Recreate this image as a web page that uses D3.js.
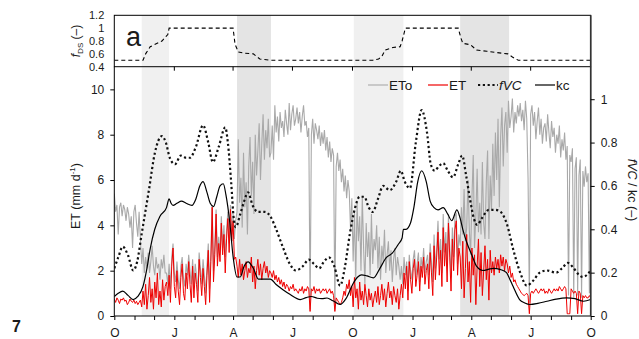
<!DOCTYPE html>
<html><head><meta charset="utf-8">
<script src="https://cdn.jsdelivr.net/npm/d3@7"></script>
<style>
body{margin:0;background:#fff}
text{font-family:"Liberation Sans",Arial,Helvetica,sans-serif;fill:#1a1a1a}
</style>
</head><body>
<svg id="chart" width="639" height="339"></svg>
<script>
// Period: two hydrological years, 1 Oct to 1 Oct
const startDate = new Date(2009, 9, 1);
const endDate = new Date(2011, 9, 1);

// Daily series sampled every 2 days (mm d-1)
const stepDays = 2;
const etoValues = [
 5.4,4.6,4.9,3.6,4.8,5.0,4.4,4.9,4.7,4.2,4.8,4.5,3.9,4.4,3.0,4.6,4.9,4.1,3.5,4.6,
 3.4,2.3,3.0,1.9,2.6,2.1,2.8,1.9,2.4,3.1,2.2,1.8,2.6,2.1,2.3,1.6,2.5,2.1,2.7,1.9,
 1.9,1.4,2.3,1.2,2.6,3.2,1.9,1.5,2.4,1.6,1.2,2.2,2.6,1.7,1.3,2.3,1.8,2.7,2.0,1.4,
 2.5,1.3,2.3,1.8,1.1,2.8,2.1,1.4,2.5,1.8,1.0,2.2,3.2,1.2,2.8,4.9,2.0,3.1,4.7,2.6,
 3.5,2.7,4.4,3.0,4.0,2.6,3.8,4.6,3.2,4.9,3.6,4.5,3.4,4.2,
 4.6,7.8,5.0,6.1,3.9,7.2,4.8,5.9,3.6,6.6,7.9,5.3,6.8,4.5,8.0,6.2,7.3,8.5,6.0,7.6,8.9,6.9,8.2,7.4,8.7,7.0,
 7.2,8.4,6.9,9.3,8.1,8.8,7.7,9.0,8.3,8.6,7.9,9.1,8.5,8.0,9.4,8.2,8.9,9.3,8.4,8.7,
 9.2,8.5,9.0,8.1,8.8,9.3,8.4,8.6,7.9,8.3,0.3,8.0,8.7,7.6,8.5,8.2,7.8,8.4,7.5,8.1,
 7.6,8.2,7.3,7.9,7.0,7.7,6.8,7.4,7.1,0.3,6.6,7.2,6.4,6.9,5.9,6.5,5.5,6.2,5.2,6.0,
 5.5,3.8,5.2,2.4,4.6,1.6,5.0,3.3,4.4,2.0,5.3,3.0,1.4,4.1,2.6,3.7,1.8,4.5,2.3,3.4,
 2.9,4.0,2.1,3.5,1.6,3.1,2.4,3.8,1.9,2.7,3.3,2.0,2.9,1.5,2.5,3.0,1.8,2.6,2.2,1.6,
 2.2,1.4,2.6,1.8,2.4,1.1,2.7,2.0,1.6,2.5,2.9,1.7,2.3,2.8,1.5,2.6,2.1,3.0,1.9,2.4,
 2.7,1.8,3.2,2.4,1.5,3.6,2.1,3.0,4.2,2.5,3.4,1.9,4.5,2.8,3.7,2.2,4.4,3.1,1.7,3.9,2.6,4.4,4.5,2.3,3.6,
 3.1,4.8,3.6,5.6,3.3,3.9,6.0,3.8,2.7,5.2,7.1,3.0,4.4,6.5,3.7,5.0,3.6,6.8,4.1,3.4,5.9,7.3,3.4,6.2,4.7,
 7.6,5.3,8.1,6.0,8.7,4.8,7.9,9.2,6.6,8.4,9.0,7.2,9.5,8.3,8.8,9.6,8.1,9.0,8.5,9.3,
 8.8,9.4,8.6,9.1,8.2,9.5,8.7,6.1,0.6,8.9,9.3,8.4,9.0,7.8,8.6,9.2,8.0,8.7,7.6,8.3,
 8.5,7.7,8.9,8.1,7.4,8.6,7.9,8.3,7.2,8.0,7.6,8.4,7.0,7.8,7.3,8.1,6.9,7.5,0.9,7.1,
 6.8,7.4,0.8,6.5,7.0,0.9,6.2,6.9,0.8,6.4,5.7,6.6,5.9,6.3,1.0,5.6
];
const etValues = [
 0.75,0.6,0.8,0.7,0.55,0.75,0.7,0.8,0.65,0.7,0.5,0.6,0.75,0.65,0.6,0.7,0.55,0.65,0.5,0.6,
 0.7,0.4,1.1,0.5,1.4,0.3,0.9,1.7,0.6,1.2,0.3,1.5,0.8,1.9,0.5,1.1,0.4,1.6,0.7,1.3,
 1.5,0.9,1.8,0.6,2.2,3.0,1.3,0.8,2.0,1.1,0.5,1.7,2.3,1.0,0.7,1.9,1.2,2.4,1.4,0.6,
 2.2,0.8,1.9,1.4,0.6,2.5,1.7,0.9,2.1,1.3,0.5,1.8,2.9,0.6,2.4,4.8,1.5,2.7,4.5,2.2,
 3.2,2.4,4.1,2.7,3.6,1.9,3.4,4.3,2.8,4.7,3.3,4.2,2.5,2.6,
 2.2,1.7,2.5,1.8,2.3,1.6,2.0,2.4,1.7,2.1,1.9,2.6,1.5,2.2,1.2,2.0,2.5,1.8,2.3,1.6,2.1,2.4,1.9,2.2,1.7,2.0,
 1.9,1.7,2.0,1.6,1.8,1.5,1.7,1.4,1.6,1.3,1.5,1.2,1.4,1.3,1.1,1.3,1.2,1.4,1.1,1.2,
 1.1,1.0,1.2,1.1,1.3,1.0,1.2,1.1,1.3,1.2,0.2,1.2,1.1,1.3,1.0,1.2,1.1,1.2,1.0,1.1,
 1.2,1.1,1.2,1.0,1.1,1.2,1.0,1.1,0.9,0.2,0.8,0.7,0.6,0.5,0.6,0.8,1.1,0.9,1.4,1.2,
 1.6,0.9,1.3,0.4,1.7,0.8,1.2,0.3,1.5,0.7,1.1,0.5,1.4,0.9,0.4,1.2,0.7,1.0,0.4,0.8,
 1.1,0.6,1.3,0.5,0.9,1.4,0.7,1.2,0.4,1.0,1.5,0.8,1.1,0.5,1.3,0.9,0.6,1.2,0.3,0.9,
 1.4,0.8,1.9,1.2,2.2,0.7,2.4,1.6,1.0,2.1,2.5,1.3,1.8,2.4,1.1,2.2,1.7,2.6,1.4,2.0,
 2.3,1.2,2.8,1.9,0.9,3.1,1.6,2.6,3.7,1.8,2.9,1.3,3.9,2.2,3.2,1.5,4.1,2.6,1.1,3.4,2.0,3.8,4.2,1.8,3.0,
 2.6,1.2,3.3,0.8,2.1,3.6,1.5,2.4,0.6,3.0,1.8,2.7,0.5,2.2,3.4,1.3,2.8,0.9,2.0,3.1,1.6,2.5,0.7,2.9,1.9,
 2.4,1.8,2.6,2.1,2.5,1.9,2.7,2.2,2.6,2.0,2.5,2.3,1.9,2.2,1.7,1.9,1.5,1.6,1.4,1.3,
 1.2,1.1,1.0,0.95,0.9,0.95,1.0,0.9,0.1,1.0,1.1,1.0,1.1,1.2,1.1,1.0,1.1,1.2,1.1,1.2,
 1.0,1.1,1.0,1.2,1.1,1.0,1.1,1.2,1.1,1.2,1.1,1.3,1.2,1.1,1.2,1.3,1.2,0.1,0.1,0.1,
 1.2,1.1,1.0,1.1,1.0,0.1,1.1,1.0,0.1,0.9,0.8,0.9,0.8,0.8,0.9,0.8
];

// Vegetation cover fraction (-), day offsets from the start date
const fvcDays = [0,6,13,21,29,35,42,53,62,73,79,85,93,102,110,116,125,136,144,151,160,170,174,179,183,186,193,199,205,212,220,231,239,248,258,269,278,289,298,306,314,321,329,337,346,353,361,369,376,383,390,396,404,412,422,432,439,445,453,462,471,479,485,491,497,504,511,519,527,533,539,545,551,556,563,574,583,592,602,611,622,632,641,652,663,677,686,695,704,712,718,730];
const fvcValues = [0.22,0.27,0.32,0.28,0.21,0.25,0.38,0.58,0.75,0.83,0.80,0.73,0.70,0.74,0.73,0.73,0.78,0.88,0.80,0.71,0.78,0.87,0.80,0.62,0.45,0.41,0.47,0.53,0.57,0.51,0.48,0.48,0.46,0.40,0.32,0.24,0.21,0.23,0.26,0.24,0.22,0.25,0.27,0.23,0.14,0.22,0.38,0.50,0.55,0.55,0.50,0.48,0.54,0.60,0.58,0.62,0.67,0.62,0.59,0.80,0.95,0.85,0.70,0.67,0.69,0.705,0.67,0.64,0.70,0.74,0.65,0.54,0.45,0.42,0.45,0.49,0.49,0.48,0.42,0.31,0.20,0.14,0.16,0.20,0.21,0.20,0.22,0.245,0.22,0.19,0.18,0.21];

// Crop coefficient (-)
const kcDays = [0,6,13,21,29,36,44,50,55,62,70,80,84,87,90,96,103,110,119,125,131,136,142,147,152,157,162,167,171,177,182,188,193,199,205,213,221,229,239,248,259,269,285,294,302,311,318,326,335,346,355,366,373,379,387,397,407,417,426,435,441,443,447,454,459,465,471,478,484,490,496,504,511,517,525,530,534,540,548,555,565,573,581,591,601,606,611,621,629,637,649,663,677,693,706,719,730];
const kcValues = [0.09,0.105,0.115,0.095,0.076,0.09,0.137,0.22,0.31,0.40,0.46,0.50,0.54,0.52,0.51,0.52,0.53,0.52,0.51,0.54,0.60,0.62,0.57,0.52,0.505,0.55,0.60,0.61,0.56,0.43,0.275,0.18,0.18,0.23,0.25,0.22,0.17,0.17,0.17,0.145,0.12,0.10,0.076,0.085,0.09,0.082,0.08,0.083,0.07,0.053,0.08,0.15,0.18,0.19,0.185,0.176,0.22,0.27,0.29,0.33,0.36,0.40,0.40,0.43,0.50,0.62,0.67,0.62,0.53,0.50,0.49,0.50,0.47,0.44,0.49,0.45,0.40,0.34,0.28,0.23,0.21,0.215,0.22,0.215,0.20,0.17,0.137,0.076,0.06,0.053,0.058,0.068,0.078,0.084,0.08,0.068,0.076];

// Dry-season factor fDS (-)
const fdsDays = [0,44,48,55,65,73,79,82,84,182,185,190,200,213,219,223,239,396,405,410,415,427,438,441,446,527,531,534,546,555,571,586,603,610,619,730];
const fdsValues = [0.5,0.5,0.6,0.71,0.76,0.80,0.87,0.9,1.0,1.0,0.75,0.63,0.61,0.60,0.55,0.52,0.50,0.50,0.52,0.56,0.66,0.70,0.71,0.80,1.0,1.0,0.85,0.765,0.74,0.66,0.64,0.62,0.60,0.55,0.50,0.50];

// Shaded periods (day offsets) and their shade
const bandStart = [42, 188, 367, 530];
const bandEnd = [84, 240, 443, 605];
const bandTone = ["light", "dark", "light", "dark"];

// Tick labels
const monthLetters = ["J","F","M","A","M","J","J","A","S","O","N","D"];
const leftTicks = [0, 2, 4, 6, 8, 10];
const rightTicks = [0, 0.2, 0.4, 0.6, 0.8, 1];
const topTicks = [0.4, 0.6, 0.8, 1, 1.2];
const legendNames = ["ETo", "ET", "fVC", "kc"];

const svg = d3.select("#chart");
const L = 114.3, R = 590.7, T = 15.3, M = 66.7, B = 316;

const dayDate = d => d3.timeDay.offset(startDate, d);
const x = d3.scaleTime().domain([startDate, endDate]).range([L, R]);
const yTop = d3.scaleLinear().domain([0.4, 1.2]).range([M, T]);
const yLeft = d3.scaleLinear().domain([0, 11]).range([B, M]);
const yRight = d3.scaleLinear().domain([0, 1.15]).range([B, M]);

svg.append("rect").attr("width", 639).attr("height", 339).attr("fill", "#fff");

const defs = svg.append("defs");
defs.append("clipPath").attr("id", "clipMain").append("rect")
  .attr("x", L).attr("y", M).attr("width", R - L).attr("height", B - M);
defs.append("clipPath").attr("id", "clipTop").append("rect")
  .attr("x", L).attr("y", T).attr("width", R - L).attr("height", M - T);

// shaded bands across both panels
const tone = {light: "#f0f0f0", dark: "#e4e4e4"};
svg.append("g").selectAll("rect").data(bandStart).join("rect")
  .attr("x", (d) => x(dayDate(d)))
  .attr("width", (d, i) => x(dayDate(bandEnd[i])) - x(dayDate(d)))
  .attr("y", T).attr("height", B - T)
  .attr("fill", (d, i) => tone[bandTone[i]]);

// daily series
const etoData = etoValues.map((v, i) => ({d: dayDate(i * stepDays), v}));
const etData = etValues.map((v, i) => ({d: dayDate(i * stepDays), v}));
const fvcData = fvcDays.map((d, i) => ({d: dayDate(d), v: fvcValues[i]}));
const kcData = kcDays.map((d, i) => ({d: dayDate(d), v: kcValues[i]}));
const fdsData = fdsDays.map((d, i) => ({d: dayDate(d), v: fdsValues[i]}));

const gMain = svg.append("g").attr("clip-path", "url(#clipMain)");
const lineLeft = d3.line().x(p => x(p.d)).y(p => yLeft(p.v));
const lineRight = d3.line().x(p => x(p.d)).y(p => yRight(p.v)).curve(d3.curveMonotoneX);

gMain.append("path").datum(etoData).attr("d", lineLeft)
  .attr("fill", "none").attr("stroke", "#a9a9a9").attr("stroke-width", 1.1);
gMain.append("path").datum(etData).attr("d", lineLeft)
  .attr("fill", "none").attr("stroke", "#ee0000").attr("stroke-width", 1);
gMain.append("path").datum(fvcData).attr("d", lineRight)
  .attr("fill", "none").attr("stroke", "#111").attr("stroke-width", 2.2)
  .attr("stroke-dasharray", "2.2,2.6");
gMain.append("path").datum(kcData).attr("d", lineRight)
  .attr("fill", "none").attr("stroke", "#000").attr("stroke-width", 1.2);

// top panel fDS
svg.append("g").attr("clip-path", "url(#clipTop)").append("path").datum(fdsData)
  .attr("d", d3.line().x(p => x(p.d)).y(p => yTop(p.v)))
  .attr("fill", "none").attr("stroke", "#000").attr("stroke-width", 1.1)
  .attr("stroke-dasharray", "4,3");

// frames
svg.append("rect").attr("x", L).attr("y", T).attr("width", R - L).attr("height", M - T)
  .attr("fill", "none").attr("stroke", "#000").attr("stroke-width", 1);
svg.append("path").attr("d", `M${L},${M}V${B}H${R}V${M}`)
  .attr("fill", "none").attr("stroke", "#000").attr("stroke-width", 1);
svg.append("line").attr("x1", R).attr("x2", R).attr("y1", T).attr("y2", B)
  .attr("stroke", "#333").attr("stroke-width", 1.6);

function styleAxis(g, size) {
  g.select(".domain").remove();
  g.selectAll(".tick line").attr("stroke", "#000");
  g.selectAll(".tick text").attr("font-size", size).attr("fill", "#1a1a1a")
    .attr("font-family", "Liberation Sans, Arial, sans-serif");
}

// quarter ticks under the top panel
const quarterTicks = d3.timeMonth.every(3).range(startDate, endDate);
svg.append("g").selectAll("line").data(quarterTicks.slice(1)).join("line")
  .attr("x1", d => x(d)).attr("x2", d => x(d)).attr("y1", M).attr("y2", M + 4)
  .attr("stroke", "#000");

// bottom axis: monthly ticks, letters on quarters
svg.append("g").attr("transform", `translate(0,${B})`)
  .call(d3.axisBottom(x).ticks(d3.timeMonth.every(1)).tickSize(4).tickPadding(8)
    .tickFormat(d => d.getMonth() % 3 === 0 ? monthLetters[d.getMonth()] : ""))
  .call(g => styleAxis(g, 12));

svg.append("g").attr("transform", `translate(${L},0)`)
  .call(d3.axisLeft(yLeft).tickValues(leftTicks).tickSize(4).tickPadding(6))
  .call(g => styleAxis(g, 12));

svg.append("g").attr("transform", `translate(${R},0)`)
  .call(d3.axisRight(yRight).tickValues(rightTicks).tickSize(4).tickPadding(6)
    .tickFormat(d => (d === 0 || d === 1) ? String(d) : d3.format(".1f")(d)))
  .call(g => styleAxis(g, 12));

svg.append("g").attr("transform", `translate(${L},0)`)
  .call(d3.axisLeft(yTop).tickValues(topTicks).tickSize(0).tickPadding(10)
    .tickFormat(d => (d === 1) ? "1" : d3.format(".1f")(d)))
  .call(g => styleAxis(g, 11));

// axis titles
const tl = svg.append("text").attr("transform", "translate(80,41) rotate(-90)")
  .attr("text-anchor", "middle").attr("font-size", 12);
tl.append("tspan").attr("font-style", "italic").text("f");
tl.append("tspan").attr("font-size", 8).attr("dy", 3).text("DS");
tl.append("tspan").attr("dy", -3).text(" (–)");

const ll = svg.append("text").attr("transform", "translate(80,196) rotate(-90)")
  .attr("text-anchor", "middle").attr("font-size", 12.5);
ll.append("tspan").text("ET (mm d");
ll.append("tspan").attr("font-size", 8).attr("dy", -5).text("-1");
ll.append("tspan").attr("dy", 5).text(")");

const rl = svg.append("text").attr("transform", "translate(628,190) rotate(90)")
  .attr("text-anchor", "middle").attr("font-size", 12.5);
rl.append("tspan").attr("font-style", "italic").text("fVC");
rl.append("tspan").text(" / kc (–)");

// legend
const legendX = [368, 428, 478, 535];
const legendStyle = [
  {stroke: "#a9a9a9", w: 1.1, dash: null},
  {stroke: "#ee0000", w: 1.2, dash: null},
  {stroke: "#111", w: 2.2, dash: "2.2,2.6"},
  {stroke: "#000", w: 1.2, dash: null}
];
const leg = svg.append("g");
legendNames.forEach((name, i) => {
  const s = legendStyle[i];
  leg.append("line").attr("x1", legendX[i]).attr("x2", legendX[i] + 20)
    .attr("y1", 85).attr("y2", 85).attr("stroke", s.stroke).attr("stroke-width", s.w)
    .attr("stroke-dasharray", s.dash);
  leg.append("text").attr("x", legendX[i] + 21).attr("y", 90).attr("font-size", 13.5)
    .attr("font-style", name === "fVC" ? "italic" : "normal").text(name);
});

// panel letter and page mark
svg.append("text").attr("x", 126).attr("y", 46).attr("font-size", 27)
  .attr("font-family", "Open Sans, sans-serif").text("a");
svg.append("text").attr("x", 12).attr("y", 332).attr("font-size", 16)
  .attr("font-weight", "bold").attr("font-family", "Open Sans, sans-serif").text("7");
</script>
</body></html>
